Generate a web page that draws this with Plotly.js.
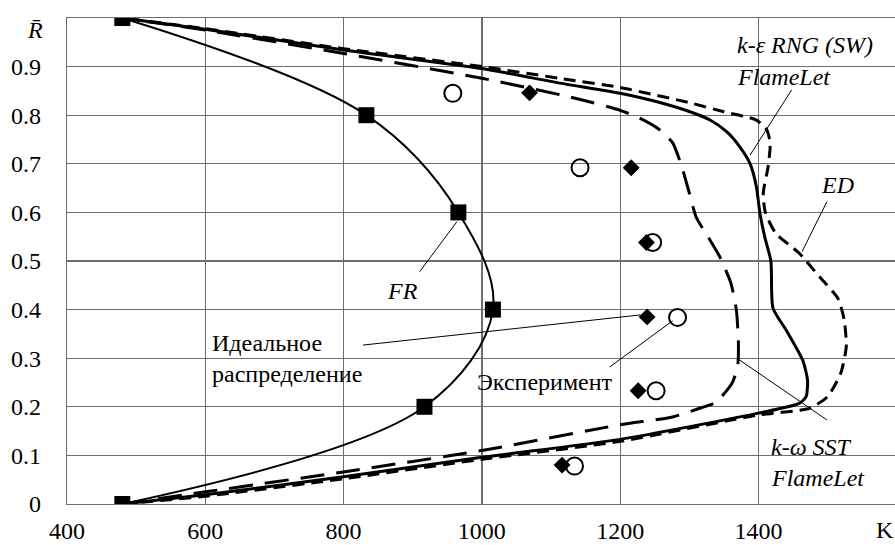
<!DOCTYPE html>
<html>
<head>
<meta charset="utf-8">
<script src="https://cdn.plot.ly/plotly-3.0.1.min.js"></script>
<style>html,body{margin:0;padding:0;background:#fff;}#chart{width:895px;height:545px;}</style>
</head>
<body>
<div id="chart"></div>
<script>
// FR – squares and the smooth curve through them
const frT = [480, 917, 1016, 966, 833, 480];
const frR = [0, 0.2, 0.4, 0.6, 0.8, 1.0];

// k-ε RNG (SW) FlameLet – thick solid
const keT = [480, 600, 800, 1000, 1200, 1400, 1459, 1469, 1471, 1464, 1440, 1421, 1418, 1409, 1402, 1397, 1388, 1373, 1354, 1330, 1305, 1260, 1200, 1113, 1000, 800, 600, 480];
const keR = [0, 0.019, 0.056, 0.096, 0.133, 0.187, 0.207, 0.221, 0.255, 0.296, 0.358, 0.403, 0.5, 0.55, 0.6, 0.653, 0.70, 0.735, 0.766, 0.79, 0.805, 0.825, 0.845, 0.866, 0.896, 0.934, 0.977, 1.0];

// ED – short dashed
const edT = [480, 600, 800, 1000, 1200, 1400, 1474, 1500, 1519, 1527, 1524, 1515, 1488, 1459, 1425, 1410, 1407, 1414, 1417, 1412, 1397, 1350, 1305, 1200, 1112, 1000, 800, 600, 480];
const edR = [0, 0.016, 0.052, 0.092, 0.129, 0.183, 0.197, 0.221, 0.269, 0.324, 0.379, 0.423, 0.468, 0.516, 0.557, 0.6, 0.64, 0.694, 0.742, 0.77, 0.79, 0.807, 0.824, 0.857, 0.876, 0.9, 0.937, 0.978, 1.0];

// k-ω SST FlameLet – long dashed
const kwT = [480, 600, 800, 1000, 1200, 1276, 1315, 1339, 1362, 1370, 1371, 1368, 1360, 1344, 1327, 1310, 1300, 1290, 1276, 1257, 1228, 1200, 1135, 1000, 800, 600, 480];
const kwR = [0, 0.025, 0.066, 0.11, 0.163, 0.179, 0.197, 0.21, 0.249, 0.283, 0.334, 0.4, 0.455, 0.509, 0.55, 0.59, 0.64, 0.69, 0.743, 0.77, 0.794, 0.81, 0.835, 0.876, 0.927, 0.975, 1.0];

// Идеальное распределение – diamonds
const idealT = [1116, 1226, 1239, 1238, 1216, 1069];
const idealR = [0.08, 0.233, 0.385, 0.538, 0.692, 0.846];

// Эксперимент – open circles
const expT = [1134, 1252, 1283, 1247, 1142, 958];
const expR = [0.078, 0.233, 0.384, 0.538, 0.692, 0.845];

const xTicks = [400, 600, 800, 1000, 1200, 1400, 1600];
const yTicks = [0, 0.1, 0.2, 0.3, 0.4, 0.5, 0.6, 0.7, 0.8, 0.9];
const yTickText = ['0', '0.1', '0.2', '0.3', '0.4', '0.5', '0.6', '0.7', '0.8', '0.9'];

const FONT = '"Liberation Serif"';
const FS = 24;

const traces = [
  {x: kwT, y: kwR, mode: 'lines', line: {color: '#000', width: 3, dash: '24px,12px', shape: 'spline', smoothing: 0.6}, hoverinfo: 'skip'},
  {x: edT, y: edR, mode: 'lines', line: {color: '#000', width: 3, dash: '12px,7px', shape: 'spline', smoothing: 0.6}, hoverinfo: 'skip'},
  {x: keT, y: keR, mode: 'lines', line: {color: '#000', width: 3, shape: 'spline', smoothing: 0.6}, hoverinfo: 'skip'},
  {x: frT, y: frR, mode: 'lines+markers', line: {color: '#000', width: 2, shape: 'spline', smoothing: 1}, marker: {symbol: 'square', size: 16, color: '#000'}},
  {x: idealT, y: idealR, mode: 'markers', marker: {symbol: 'diamond', size: 13, color: '#000'}},
  {x: expT, y: expR, mode: 'markers', marker: {symbol: 'circle-open', size: 17, color: '#000', line: {width: 2}}}
];

function seg(x0, y0, x1, y1) {
  return {type: 'line', xref: 'x', yref: 'y', x0: x0, y0: y0, x1: x1, y1: y1, line: {color: '#000', width: 1}};
}

const shapes = [
  seg(1448, 0.852, 1388, 0.718),
  seg(1499, 0.622, 1463, 0.519),
  seg(910, 0.478, 964, 0.581),
  seg(828, 0.327, 1229, 0.389),
  seg(1185, 0.282, 1276, 0.377),
  seg(1373, 0.296, 1499, 0.173)
];

function ann(text, x, y, xanchor, italic) {
  return {text: italic ? '<i>' + text + '</i>' : text, x: x, y: y, xref: 'x', yref: 'y', xanchor: xanchor, yanchor: 'middle', showarrow: false, font: {family: FONT, size: FS, color: '#000'}};
}

const annotations = [
  ann('k-ε RNG (SW)', 1366, 0.944, 'left', true),
  ann('FlameLet', 1366, 0.879, 'left', true),
  ann('ED', 1515, 0.656, 'center', true),
  ann('FR', 885, 0.438, 'center', true),
  ann('Идеальное', 607, 0.331, 'left', false),
  ann('распределение', 607, 0.267, 'left', false),
  ann('Эксперимент', 990, 0.251, 'left', false),
  ann('k-ω SST', 1415, 0.117, 'left', true),
  ann('FlameLet', 1415, 0.053, 'left', true),
  {text: '<i>R̄</i>', xref: 'paper', yref: 'paper', x: -0.039, y: 0.975, xanchor: 'center', yanchor: 'middle', showarrow: false, font: {family: FONT, size: FS, color: '#000'}},
  {text: 'K', xref: 'paper', yref: 'paper', x: 0.988, y: -0.054, xanchor: 'center', yanchor: 'middle', showarrow: false, font: {family: FONT, size: FS, color: '#000'}}
];

const layout = {
  width: 895, height: 545,
  margin: {l: 67, r: 0, t: 18, b: 41},
  paper_bgcolor: '#fff', plot_bgcolor: '#fff',
  showlegend: false,
  font: {family: FONT, size: FS, color: '#000'},
  xaxis: {range: [400, 1597.5], tickvals: xTicks, ticktext: xTicks.map(String), showgrid: true, gridcolor: '#6e6e6e', gridwidth: 1.3, zeroline: false, showline: true, linecolor: '#6e6e6e', linewidth: 1.3, mirror: true, ticks: '', ticklabelstandoff: 5, tickfont: {family: FONT, size: FS, color: '#000'}, fixedrange: true},
  yaxis: {range: [0, 1], tickvals: yTicks, ticktext: yTickText, showgrid: true, gridcolor: '#6e6e6e', gridwidth: 1.3, zeroline: false, showline: true, linecolor: '#6e6e6e', linewidth: 1.3, mirror: false, ticks: '', ticklabelstandoff: 20, tickfont: {family: FONT, size: FS, color: '#000'}, fixedrange: true},
  shapes: shapes,
  annotations: annotations
};

Plotly.newPlot('chart', traces, layout, {staticPlot: true, displayModeBar: false});
</script>
</body>
</html>
